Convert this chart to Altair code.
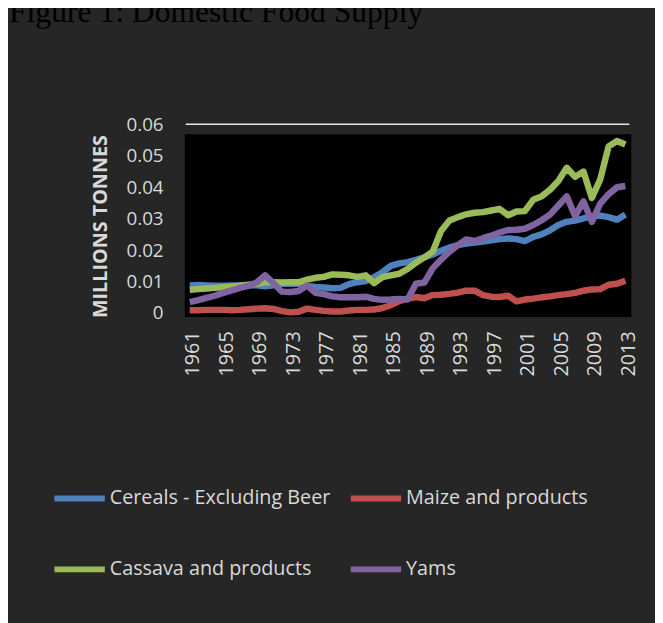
import altair as alt
import pandas as pd

years = list(range(1961, 2014))

series_names = ["Cereals - Excluding Beer", "Maize and products",
                "Cassava and products", "Yams"]
series_colors = ["#4f81bd", "#c0504d", "#9bbb59", "#8064a2"]

cereals = [0.0088, 0.0089, 0.0088, 0.0087, 0.0087, 0.0088, 0.0088, 0.0088, 0.0088, 0.0085,
           0.0088, 0.0093, 0.0093, 0.0093, 0.0086, 0.0083, 0.0081, 0.0079, 0.0080, 0.0092,
           0.0098, 0.0102, 0.0114, 0.0130, 0.0150, 0.0158, 0.0162, 0.0169, 0.0177, 0.0186,
           0.0198, 0.0208, 0.0216, 0.0221, 0.0224, 0.0227, 0.0231, 0.0235, 0.0237, 0.0235,
           0.0229, 0.0242, 0.0250, 0.0263, 0.0280, 0.0290, 0.0294, 0.0301, 0.0308, 0.0310,
           0.0305, 0.0297, 0.0313]

maize = [0.0009, 0.0009, 0.0010, 0.0010, 0.0010, 0.0009, 0.0010, 0.0012, 0.0014, 0.0015,
         0.0013, 0.0006, 0.0002, 0.0004, 0.0014, 0.0010, 0.0007, 0.0005, 0.0005, 0.0008,
         0.0010, 0.0010, 0.0011, 0.0016, 0.0025, 0.0038, 0.0046, 0.0051, 0.0047, 0.0057,
         0.0058, 0.0061, 0.0065, 0.0071, 0.0071, 0.0057, 0.0052, 0.0051, 0.0055, 0.0037,
         0.0043, 0.0046, 0.0050, 0.0053, 0.0057, 0.0060, 0.0064, 0.0071, 0.0075, 0.0076,
         0.0090, 0.0093, 0.0103]

cassava = [0.0074, 0.0076, 0.0078, 0.0080, 0.0082, 0.0084, 0.0087, 0.0090, 0.0093, 0.0098,
           0.0098, 0.0097, 0.0098, 0.0098, 0.0106, 0.0112, 0.0115, 0.0123, 0.0122, 0.0120,
           0.0115, 0.0120, 0.0095, 0.0114, 0.0120, 0.0125, 0.0140, 0.0160, 0.0177, 0.0195,
           0.0261, 0.0294, 0.0305, 0.0314, 0.0319, 0.0321, 0.0326, 0.0331, 0.0311, 0.0323,
           0.0324, 0.0360, 0.0371, 0.0392, 0.0420, 0.0462, 0.0433, 0.0450, 0.0366, 0.0425,
           0.0530, 0.0547, 0.0536]

yams = [0.0035, 0.0041, 0.0048, 0.0055, 0.0064, 0.0072, 0.0080, 0.0086, 0.0097, 0.0120,
        0.0095, 0.0068, 0.0067, 0.0070, 0.0088, 0.0064, 0.0060, 0.0053, 0.0050, 0.0050,
        0.0050, 0.0052, 0.0045, 0.0042, 0.0043, 0.0045, 0.0043, 0.0093, 0.0097, 0.0142,
        0.0170, 0.0195, 0.0216, 0.0234, 0.0229, 0.0238, 0.0246, 0.0256, 0.0264, 0.0265,
        0.0268, 0.0280, 0.0295, 0.0313, 0.0342, 0.0371, 0.0308, 0.0355, 0.0290, 0.0348,
        0.0378, 0.0400, 0.0404]

x_tick_values = list(range(1961, 2014, 4))
y_tick_values = [0, 0.01, 0.02, 0.03, 0.04, 0.05, 0.06]

rows = []
for name, vals in zip(series_names, [cereals, maize, cassava, yams]):
    for yr, v in zip(years, vals):
        rows.append({"Year": yr, "Series": name, "Value": v})
df = pd.DataFrame(rows)

W, H = 441, 191

x_scale = alt.Scale(domain=[1961, 2013], nice=False, zero=False)
y_scale = alt.Scale(domain=[0, 0.06], nice=False)

dummy = alt.Data(values=[{"a": 1}])

plot_bg = alt.Chart(dummy).mark_rect(color="#000000").encode(
    x=alt.value(-5), x2=alt.value(447), y=alt.value(10), y2=alt.value(195)
)

top_rule = alt.Chart(dummy).mark_rule(color="#e6e6e6", strokeWidth=1.5).encode(
    y=alt.datum(0.06, scale=y_scale), x=alt.value(-4), x2=alt.value(445)
)

lines = alt.Chart(df).mark_line(strokeWidth=6.5, strokeJoin="round", strokeCap="butt").encode(
    x=alt.X("Year:Q", scale=x_scale,
            axis=alt.Axis(values=x_tick_values, tickCount=60, format="d", labelAngle=270,
                          labelAlign="right", labelBaseline="middle",
                          labelPadding=18, labelOffset=3, ticks=False, domain=False,
                          grid=False, title=None, labelFontSize=20,
                          labelFont="Open Sans", labelColor="#d9d9d9",
                          labelOverlap=False)),
    y=alt.Y("Value:Q", scale=y_scale,
            axis=alt.Axis(values=y_tick_values, tickCount=20,
                          labelExpr="datum.value == 0 ? '0' : format(datum.value, '.2f')",
                          ticks=False, domain=False, grid=False, labelOverlap=False,
                          labelPadding=27, labelFontSize=19, labelFont="Open Sans",
                          labelColor="#d9d9d9",
                          title="MILLIONS TONNES", titleFont="Open Sans",
                          titleFontSize=20, titleFontWeight="bold",
                          titleColor="#d9d9d9", titleAngle=270,
                          titleX=-90, titleY=103, titleAlign="center",
                          titleBaseline="middle")),
    color=alt.Color("Series:N",
                    scale=alt.Scale(domain=series_names, range=series_colors),
                    legend=alt.Legend(orient="none", legendX=-140, legendY=350,
                                      direction="horizontal",
                                      columns=2, title=None, symbolType="stroke",
                                      symbolSize=2601, symbolStrokeWidth=6,
                                      labelFont="Open Sans", labelFontSize=20,
                                      labelColor="#d9d9d9", labelOffset=2,
                                      columnPadding=8, rowPadding=31, padding=0,
                                      labelLimit=400)),
    detail="Series:N",
)

title_text = alt.Chart(dummy).mark_text(
    text="Figure 1: Domestic Food Supply", font="Liberation Serif", fontSize=32,
    align="left", baseline="alphabetic", color="#000000"
).encode(x=alt.value(-183), y=alt.value(-104))

chart = alt.layer(plot_bg, top_rule, lines, title_text).properties(
    width=W, height=H,
    background="#262626",
    autosize=alt.AutoSizeParams(type="none"),
    padding={"left": 184, "top": 114, "right": 30, "bottom": 310},
).configure_view(stroke=None)

chart.save("out.html", embed_options={"renderer": "svg", "actions": False})
